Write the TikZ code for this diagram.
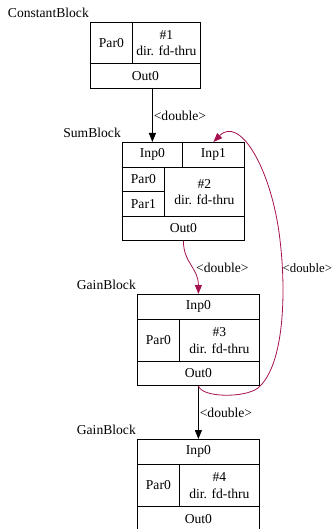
\documentclass[tikz,border=0pt]{standalone}
\usepackage{fontspec}
\setmainfont{Liberation Serif}
\usetikzlibrary{arrows.meta}
\definecolor{linkred}{HTML}{A6114F}
\tikzset{
    cell/.style={draw, line width=0.8pt, inner sep=0pt, anchor=north west, align=center},
    blocklabel/.style={inner sep=0pt, anchor=base east},
    link/.style={-{Triangle[length=9pt,width=7pt]}, line width=0.8pt},
    linklabel/.style={inner sep=0pt, anchor=west},
}

\begin{document}
\begin{tikzpicture}[x=1pt, y=-1pt, font=\fontsize{13.6}{16.5}\selectfont]
    \useasboundingbox (0,0) rectangle (333,529);

    % block 1
    \node[cell, minimum width=42, minimum height=41] (b1par) at (90,22) {Par0};
    \node[cell, minimum width=68, minimum height=41] (b1info) at (132,22) {\#1\\dir. fd-thru};
    \node[cell, minimum width=110, minimum height=25] (b1out) at (90,63) {Out0};
    \node[blocklabel] (b1name) at ([xshift=-1pt,yshift=4.5pt]b1par.north west) {ConstantBlock};

    % block 2
    \node[cell, minimum width=60, minimum height=25] (b2inp) at (122,142) {Inp0};
    \node[cell, minimum width=62, minimum height=25] (b2inpb) at (182,142) {Inp1};
    \node[cell, minimum width=42, minimum height=24] (b2par) at (122,167) {Par0};
    \node[cell, minimum width=42, minimum height=25] (b2parb) at (122,191) {Par1};
    \node[cell, minimum width=80, minimum height=49] (b2info) at (164,167) {\#2\\dir. fd-thru};
    \node[cell, minimum width=122, minimum height=24] (b2out) at (122,216) {Out0};
    \node[blocklabel] (b2name) at ([xshift=-1pt,yshift=4.5pt]b2inp.north west) {SumBlock};

    % block 3
    \node[cell, minimum width=122, minimum height=25] (b3inp) at (137,294) {Inp0};
    \node[cell, minimum width=42, minimum height=42] (b3par) at (137,319) {Par0};
    \node[cell, minimum width=80, minimum height=42] (b3info) at (179,319) {\#3\\dir. fd-thru};
    \node[cell, minimum width=122, minimum height=24] (b3out) at (137,361) {Out0};
    \node[blocklabel] (b3name) at ([xshift=-1pt,yshift=4.5pt]b3inp.north west) {GainBlock};

    % block 4
    \node[cell, minimum width=122, minimum height=25] (b4inp) at (137,439) {Inp0};
    \node[cell, minimum width=42, minimum height=42] (b4par) at (137,464) {Par0};
    \node[cell, minimum width=80, minimum height=42] (b4info) at (179,464) {\#4\\dir. fd-thru};
    \node[cell, minimum width=122, minimum height=26] (b4out) at (137,506) {Out0};
    \node[blocklabel] (b4name) at ([xshift=-1pt,yshift=4.5pt]b4inp.north west) {GainBlock};

    % links
    \draw[link] (b1out.south -| b2inp.north) -- node[linklabel, xshift=1pt] (l1) {<double>} (b2inp.north);
    \draw[link] (b3out.south) -- node[linklabel, xshift=1pt] (l3) {<double>} (b4inp.north);
    \draw[link, linkred] (b2out.south) .. controls +(0,22) and +(0,-26) .. (b3inp.north);
    \node[linklabel] (l2) at (196,268) {<double>};
    \draw[link, linkred] (b3out.south) .. controls (202,398) and (245,398) .. (258,388)
        .. controls (285,365) and (286,290) .. (280,240)
        .. controls (272,170) and (240,115) .. (b2inpb.north);
    \node[linklabel, font=\fontsize{12.8}{15}\selectfont] (l4) at (282.5,268) {<double>};

\end{tikzpicture}
\end{document}
